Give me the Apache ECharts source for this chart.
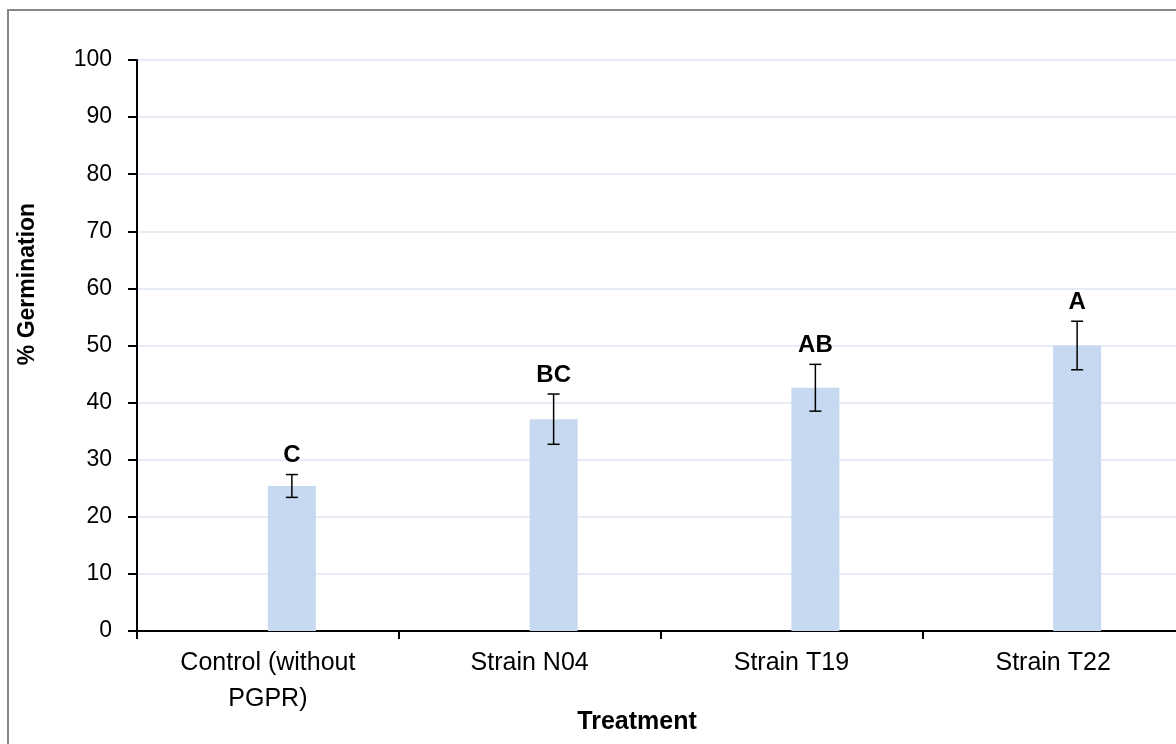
<!DOCTYPE html>
<html>
<head>
<meta charset="utf-8">
<script src="https://cdn.jsdelivr.net/npm/echarts@6/dist/echarts.min.js"></script>
<style>
html,body{margin:0;padding:0;background:#fff;overflow:hidden;width:1176px;height:744px;}
#c{width:1200px;height:744px;}
</style>
</head>
<body>
<div id="c"></div>
<script>
// ---- data ----
const categories = ['Control (without\nPGPR)', 'Strain N04', 'Strain T19', 'Strain T22'];
const germination = [25.4, 37.1, 42.6, 50.0];
const errors = [2.0, 4.4, 4.1, 4.25];
const letters = ['C', 'BC', 'AB', 'A'];
const yTicks = { min: 0, max: 100, interval: 10 };

// ---- style ----
const BAR_W = 48;
const FONT = '"Liberation Sans", Arial, sans-serif';

const chart = echarts.init(document.getElementById('c'), null, { renderer: 'canvas' });

const errData = germination.map((v, i) => [i, v, errors[i], letters[i]]);

chart.setOption({
  animation: false,
  backgroundColor: '#fff',
  grid: { left: 137, top: 60, width: 1047, height: 571, containLabel: false },
  graphic: [
    { type: 'rect', shape: { x: 8, y: 10, width: 1300, height: 760 },
      style: { fill: 'none', stroke: '#878787', lineWidth: 2 }, z: -1 },
    { type: 'text', x: 28, y: 284, rotation: Math.PI / 2,
      style: { text: '% Germination', font: 'bold 23px ' + FONT, fill: '#000',
               textAlign: 'center', textVerticalAlign: 'middle' } },
    { type: 'text', x: 637, y: 722,
      style: { text: 'Treatment', font: 'bold 25px ' + FONT, fill: '#000',
               textAlign: 'center', textVerticalAlign: 'middle' } }
  ],
  xAxis: {
    type: 'category',
    data: categories,
    axisLine: { lineStyle: { color: '#000', width: 2 } },
    axisTick: { show: true, length: 8, lineStyle: { color: '#000', width: 2 } },
    axisLabel: { color: '#000', fontFamily: FONT, fontSize: 25, lineHeight: 36, margin: 14, interval: 0 },
    splitLine: { show: false }
  },
  yAxis: {
    type: 'value',
    min: yTicks.min, max: yTicks.max, interval: yTicks.interval,
    axisLine: { show: true, lineStyle: { color: '#000', width: 2 } },
    axisTick: { show: true, length: 9, lineStyle: { color: '#000', width: 2 } },
    axisLabel: { color: '#000', fontFamily: FONT, fontSize: 23, margin: 25 },
    splitLine: { show: true, lineStyle: { color: '#dce6f2', width: 1.5 } }
  },
  series: [
    { type: 'bar', name: 'blank', data: categories.map(() => '-'), barWidth: BAR_W, barGap: '0%' },
    { type: 'bar', name: '% Germination', data: germination, barWidth: BAR_W, barGap: '0%',
      itemStyle: { color: '#c6d9f0' } },
    {
      type: 'custom', name: 'err', data: errData, z: 10,
      renderItem: function (params, api) {
        const i = api.value(0), v = api.value(1), e = api.value(2);
        const top = api.coord([i, v + e]);
        const bot = api.coord([i, v - e]);
        const x = top[0] + BAR_W / 2;
        const cap = 6;
        const ls = { stroke: '#000', lineWidth: 1.5 };
        return {
          type: 'group',
          children: [
            { type: 'line', shape: { x1: x, y1: top[1], x2: x, y2: bot[1] }, style: ls },
            { type: 'line', shape: { x1: x - cap, y1: top[1], x2: x + cap, y2: top[1] }, style: ls },
            { type: 'line', shape: { x1: x - cap, y1: bot[1], x2: x + cap, y2: bot[1] }, style: ls },
            { type: 'text', x: x, y: top[1] - 19,
              style: { text: letters[params.dataIndex], font: 'bold 24px ' + FONT, fill: '#000',
                       textAlign: 'center', textVerticalAlign: 'middle' } }
          ]
        };
      }
    }
  ]
});
</script>
</body>
</html>
